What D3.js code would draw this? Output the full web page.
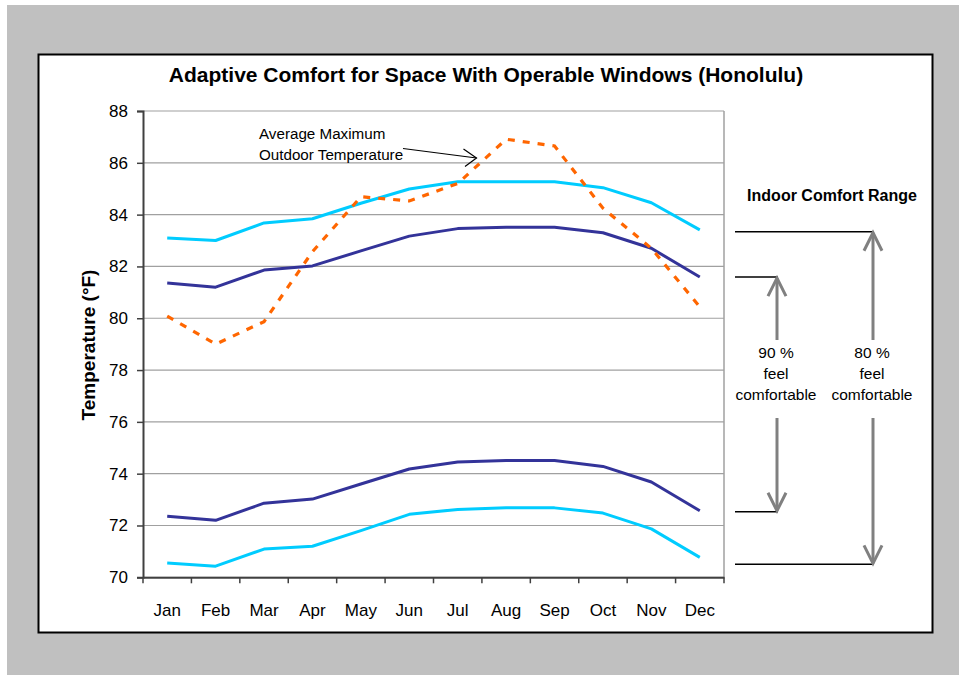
<!DOCTYPE html>
<html><head><meta charset="utf-8">
<script src="https://cdn.jsdelivr.net/npm/d3@7"></script>
<style>body{margin:0;background:#fff}svg{display:block;font-family:"Liberation Sans",Arial,sans-serif}</style>
</head><body>
<svg id="c" width="959" height="675"></svg>
<script>
const months = ["Jan","Feb","Mar","Apr","May","Jun","Jul","Aug","Sep","Oct","Nov","Dec"];
const upper80 = [83.1,83.0,83.68,83.84,84.44,84.99,85.27,85.27,85.27,85.04,84.46,83.41];
const upper90 = [81.36,81.2,81.86,82.02,82.6,83.17,83.46,83.51,83.51,83.3,82.7,81.59];
const lower90 = [72.36,72.2,72.86,73.02,73.6,74.18,74.45,74.51,74.51,74.28,73.68,72.57];
const lower80 = [70.55,70.43,71.09,71.2,71.8,72.43,72.62,72.68,72.68,72.48,71.87,70.77];
const outdoorMax = [80.08,79.0,79.87,82.57,84.69,84.53,85.2,86.91,86.65,84.25,82.7,80.44];
const yTicks = [70,72,74,76,78,80,82,84,86,88];
const range90 = [81.59,72.53];
const range80 = [83.34,70.5];

const svg = d3.select("#c");
svg.append("rect").attr("x",7).attr("y",5).attr("width",952).attr("height",670).attr("fill","#c0c0c0");
svg.append("rect").attr("x",38.5).attr("y",54.5).attr("width",894).attr("height",578).attr("fill","#fff").attr("stroke","#000").attr("stroke-width",2);

const L=143,R=724,T=111,B=577.3;
const x = d3.scaleBand().domain(months).range([L,R]).padding(0);
const y = d3.scaleLinear().domain([70,88]).range([B,T]);
const cx = m => x(m)+x.bandwidth()/2;

// gridlines
svg.append("g").selectAll("line").data(yTicks).join("line")
  .attr("x1",L).attr("x2",R).attr("y1",d=>y(d)).attr("y2",d=>y(d))
  .attr("stroke","#a0a0a0").attr("stroke-width",1.2);
svg.append("line").attr("x1",R).attr("x2",R).attr("y1",T).attr("y2",B).attr("stroke","#a0a0a0").attr("stroke-width",1.5);

// axes
const yAxis = svg.append("g").attr("transform",`translate(${L},0)`)
  .call(d3.axisLeft(y).tickValues(yTicks).tickSize(6).tickPadding(9).tickFormat(d3.format("d")));
yAxis.select(".domain").attr("stroke","#404040").attr("stroke-width",2);
yAxis.selectAll(".tick line").attr("stroke","#404040").attr("stroke-width",1.5);
yAxis.selectAll("text").attr("font-size",17).attr("fill","#000").attr("font-family","Liberation Sans, Arial, sans-serif");

const xAxis = svg.append("g").attr("transform",`translate(0,${B})`)
  .call(d3.axisBottom(x).tickSize(0).tickPadding(27));
xAxis.select(".domain").attr("stroke","#404040").attr("stroke-width",2);
xAxis.selectAll("text").attr("font-size",17).attr("fill","#000").attr("font-family","Liberation Sans, Arial, sans-serif");
const bounds = months.map(m=>x(m)).concat([R]);
svg.append("g").selectAll("line").data(bounds).join("line")
  .attr("x1",d=>d).attr("x2",d=>d).attr("y1",B).attr("y2",B+6).attr("stroke","#404040").attr("stroke-width",1.5);

// lines
const line = d3.line().x((d,i)=>cx(months[i])).y(d=>y(d));
const series = [
  {v:upper80,c:"#00ccff"},{v:lower80,c:"#00ccff"},
  {v:upper90,c:"#333399"},{v:lower90,c:"#333399"}
];
series.forEach(s=>svg.append("path").attr("d",line(s.v)).attr("fill","none").attr("stroke",s.c).attr("stroke-width",3).attr("stroke-linejoin","round"));
svg.append("path").attr("d",line(outdoorMax)).attr("fill","none").attr("stroke","#ff6600").attr("stroke-width",3.2).attr("stroke-dasharray","7,8");

// title
svg.append("text").attr("x",486).attr("y",82).attr("text-anchor","middle").attr("font-size",21).attr("font-weight","bold").text("Adaptive Comfort for Space With Operable Windows (Honolulu)");
svg.append("text").attr("transform","translate(95,345) rotate(-90)").attr("text-anchor","middle").attr("font-size",19).attr("font-weight","bold").text("Temperature (°F)");

// outdoor annotation
const ann = svg.append("g").attr("font-size",15.2);
ann.append("text").attr("x",259).attr("y",138.5).text("Average Maximum");
ann.append("text").attr("x",259).attr("y",159.5).text("Outdoor Temperature");
svg.append("line").attr("x1",403).attr("y1",148.5).attr("x2",476.5).attr("y2",158).attr("stroke","#000").attr("stroke-width",1.2);
svg.append("path").attr("d","M463.5,149 L476.5,158 L465,166.5").attr("fill","none").attr("stroke","#000").attr("stroke-width",1.2);

// indoor comfort range
svg.append("text").attr("x",832).attr("y",201).attr("text-anchor","middle").attr("font-size",16).attr("font-weight","bold").text("Indoor Comfort Range");
const gx = 735;
const groups = [
  {r:range90, ax:777, label:"90 %"},
  {r:range80, ax:873, label:"80 %"}
];
groups.forEach(g=>{
  const yt=y(g.r[0]), yb=y(g.r[1]);
  svg.append("line").attr("x1",gx).attr("x2",g.ax+1).attr("y1",yt).attr("y2",yt).attr("stroke","#000").attr("stroke-width",1.5);
  svg.append("line").attr("x1",gx).attr("x2",g.ax+1).attr("y1",yb).attr("y2",yb).attr("stroke","#000").attr("stroke-width",1.5);
  const gr = svg.append("g").attr("stroke","#808080").attr("stroke-width",3).attr("fill","none");
  gr.append("line").attr("x1",g.ax).attr("x2",g.ax).attr("y1",yt+1).attr("y2",340);
  gr.append("path").attr("d",`M${g.ax-9},${yt+19} L${g.ax},${yt+1} L${g.ax+9},${yt+19}`);
  gr.append("line").attr("x1",g.ax).attr("x2",g.ax).attr("y1",418).attr("y2",yb-1);
  gr.append("path").attr("d",`M${g.ax-9},${yb-19} L${g.ax},${yb-1} L${g.ax+9},${yb-19}`);
  const t = svg.append("g").attr("font-size",15.5).attr("text-anchor","middle");
  [g.label,"feel","comfortable"].forEach((s,i)=>t.append("text").attr("x",g.ax-1).attr("y",358+i*20.8).text(s));
});
</script>
</body></html>
